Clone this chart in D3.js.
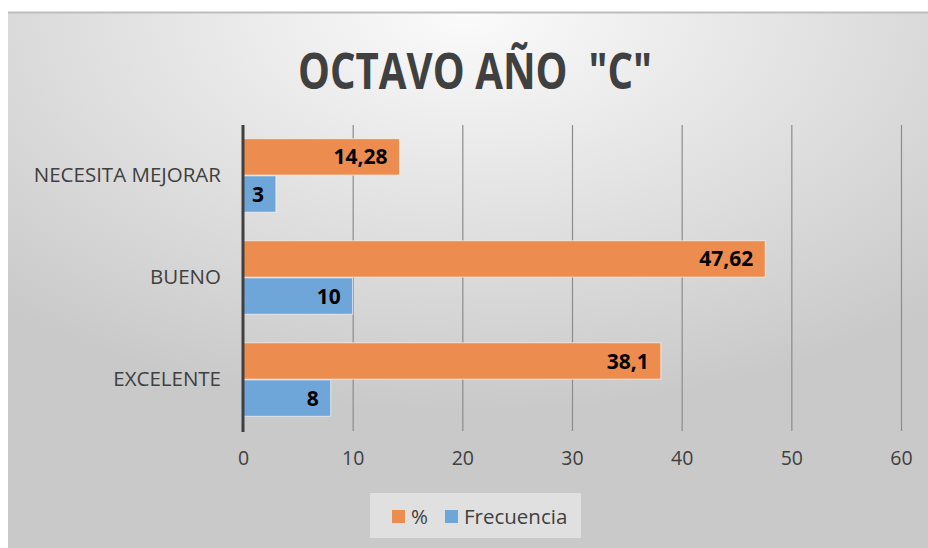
<!DOCTYPE html>
<html>
<head>
<meta charset="utf-8">
<script src="https://cdn.jsdelivr.net/npm/d3@7"></script>
<style>
  html, body { margin: 0; padding: 0; background: #fff; }
  svg { display: block; font-family: "Open Sans", "DejaVu Sans", sans-serif; }
</style>
</head>
<body>
<div id="chart"></div>
<script>
const categories = ['NECESITA MEJORAR', 'BUENO', 'EXCELENTE'];
const percentValues = [14.28, 47.62, 38.1];
const percentLabels = ['14,28', '47,62', '38,1'];
const freqValues = [3, 10, 8];
const freqLabels = ['3', '10', '8'];
const xTicks = [0, 10, 20, 30, 40, 50, 60];
const seriesNames = ['%', 'Frecuencia'];

const width = 928;
const height = 548;
const margin = { top: 125, left: 243 };
const colors = { pct: '#ed8c4f', freq: '#6ea6da' };

const svg = d3.select('#chart')
  .append('svg')
  .attr('width', width)
  .attr('height', height);

// background gradient like the office chart area
const defs = svg.append('defs');
const grad = defs.append('radialGradient')
  .attr('id', 'bg')
  .attr('cx', '50%').attr('cy', '0%')
  .attr('r', '75%')
  .attr('fx', '50%').attr('fy', '0%');
grad.append('stop').attr('offset', '0%').attr('stop-color', '#fbfbfb');
grad.append('stop').attr('offset', '100%').attr('stop-color', '#c9c9c9');

svg.append('rect')
  .attr('x', 8).attr('y', 12)
  .attr('width', width - 8).attr('height', height - 12)
  .attr('fill', 'url(#bg)');
svg.append('line')
  .attr('x1', 8).attr('x2', width)
  .attr('y1', 12.5).attr('y2', 12.5)
  .attr('stroke', '#bdbdbd').attr('stroke-width', 2);

// title
svg.append('text')
  .attr('x', 475).attr('y', 89)
  .attr('text-anchor', 'middle')
  .attr('font-size', 50)
  .attr('font-weight', 'bold')
  .attr('fill', '#404040')
  .attr('textLength', 354)
  .attr('lengthAdjust', 'spacingAndGlyphs')
  .style('white-space', 'pre')
  .text('OCTAVO AÑO  "C"');

const g = svg.append('g')
  .attr('transform', `translate(${margin.left},${margin.top})`);

const plotH = 306;
const x = d3.scaleLinear().domain([0, 60]).range([0, 658]);
const y = d3.scaleBand().domain(categories).range([0, 305]).paddingInner(0.265).paddingOuter(0.127);
const ySub = d3.scaleBand().domain(['pct', 'freq']).range([0, y.bandwidth()]).padding(0.02);

// gridlines
g.append('g')
  .selectAll('line')
  .data(xTicks.slice(1))
  .join('line')
  .attr('x1', (d) => x(d) + 0.5)
  .attr('x2', (d) => x(d) + 0.5)
  .attr('y1', 0)
  .attr('y2', plotH)
  .attr('stroke', '#8c8c8c')
  .attr('stroke-width', 1.2);

// x tick labels
g.append('g')
  .attr('transform', `translate(0,${plotH})`)
  .call(d3.axisBottom(x).tickValues(xTicks).tickSize(0).tickPadding(20))
  .call((a) => a.select('.domain').remove())
  .selectAll('text')
  .attr('font-size', 19.5)
  .attr('font-family', '"Open Sans", sans-serif')
  .attr('fill', '#404040');

// category labels
g.append('g')
  .attr('transform', 'translate(-22,0)')
  .call(d3.axisLeft(y).tickSize(0).tickPadding(0))
  .call((a) => a.select('.domain').remove())
  .selectAll('text')
  .attr('font-size', 20.5)
  .attr('font-family', '"Open Sans", sans-serif')
  .attr('fill', '#404040');

const rows = categories.map((c, i) => ({
  c,
  pct: percentValues[i],
  pctLabel: percentLabels[i],
  freq: freqValues[i],
  freqLabel: freqLabels[i],
}));

const bars = [];
rows.forEach((r) => {
  bars.push({ c: r.c, key: 'pct', v: r.pct, label: r.pctLabel });
  bars.push({ c: r.c, key: 'freq', v: r.freq, label: r.freqLabel });
});

g.append('g')
  .selectAll('rect')
  .data(bars)
  .join('rect')
  .attr('x', 0)
  .attr('y', (d) => y(d.c) + ySub(d.key))
  .attr('width', (d) => x(d.v))
  .attr('height', ySub.bandwidth())
  .attr('fill', (d) => colors[d.key])
  .attr('stroke', '#f7f7f7')
  .attr('stroke-opacity', 0.7)
  .attr('stroke-width', 1);

g.append('g')
  .selectAll('text')
  .data(bars)
  .join('text')
  .attr('x', (d) => x(d.v) - 12)
  .attr('y', (d) => y(d.c) + ySub(d.key) + ySub.bandwidth() / 2)
  .attr('dy', '0.36em')
  .attr('text-anchor', 'end')
  .attr('font-size', 21)
  .attr('font-weight', 'bold')
  .attr('fill', '#000')
  .text((d) => d.label);

// vertical axis line
g.append('line')
  .attr('x1', 0).attr('x2', 0)
  .attr('y1', 0).attr('y2', plotH + 1)
  .attr('stroke', '#404040')
  .attr('stroke-width', 3);

// legend
const legend = svg.append('g').attr('transform', 'translate(370,493)');
legend.append('rect')
  .attr('width', 211).attr('height', 45)
  .attr('fill', '#e6e6e6')
  .attr('opacity', 0.8);
const items = [
  { name: seriesNames[0], color: colors.pct, x: 22 },
  { name: seriesNames[1], color: colors.freq, x: 75 },
];
const li = legend.selectAll('g.item')
  .data(items)
  .join('g')
  .attr('class', 'item')
  .attr('transform', (d) => `translate(${d.x},17)`);
li.append('rect')
  .attr('width', 13).attr('height', 13)
  .attr('fill', (d) => d.color);
li.append('text')
  .attr('x', 19).attr('y', 6.5)
  .attr('dy', '0.36em')
  .attr('font-size', 20.5)
  .attr('fill', '#404040')
  .text((d) => d.name);
</script>
</body>
</html>
